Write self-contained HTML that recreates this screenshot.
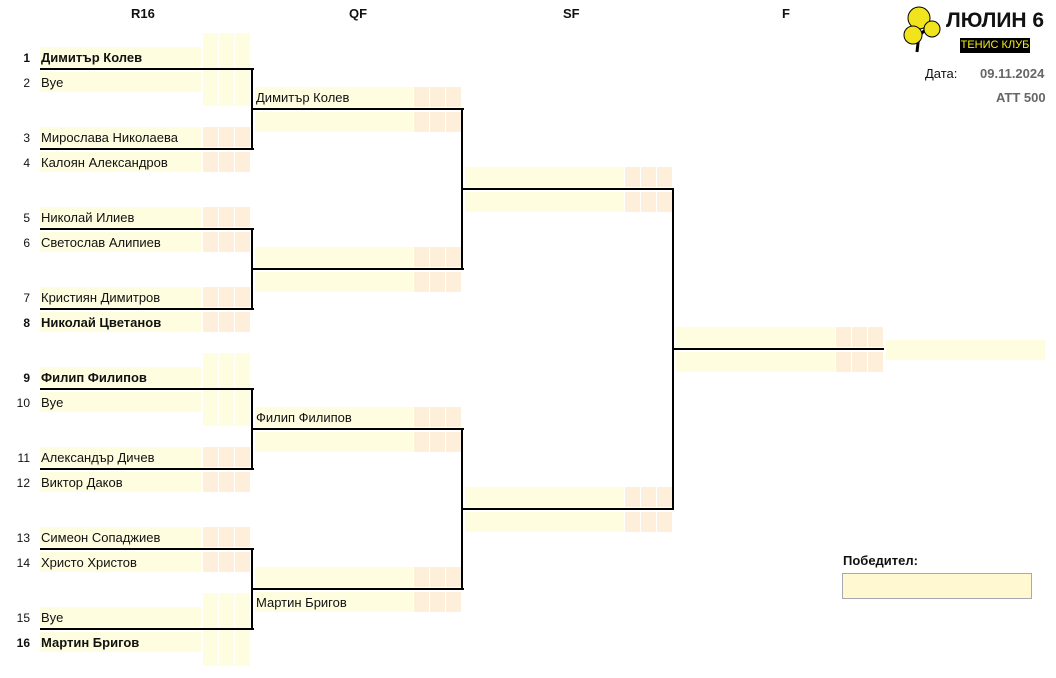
<!DOCTYPE html>
<html><head><meta charset="utf-8">
<style>
*{margin:0;padding:0;box-sizing:border-box}
body{width:1056px;height:678px;background:#fff;position:relative;overflow:hidden;font-family:"Liberation Sans","DejaVu Sans",sans-serif;font-size:13px;color:#111}
div{position:absolute}
.y{background:#fffde0}
.o{background:#fdefd9}
.n{height:20px}
.t{height:20px;line-height:20px;white-space:nowrap}
.b{font-weight:bold}
.num{width:30px;text-align:right;height:20px;line-height:20px;font-size:12px}
.h{background:#000;height:2px}
.v{background:#000;width:2px}
.hd{font-weight:bold;top:6px;font-size:13px}
</style></head><body>
<div class="hd" style="left:131px">R16</div>
<div class="hd" style="left:349px">QF</div>
<div class="hd" style="left:563px">SF</div>
<div class="hd" style="left:782px">F</div>

<div class="n y" style="left:40px;top:47px;width:161px"></div>
<div class="n y" style="left:40px;top:72px;width:161px"></div>
<div class="n y" style="left:40px;top:127px;width:161px"></div>
<div class="n y" style="left:40px;top:152px;width:161px"></div>
<div class="n y" style="left:40px;top:207px;width:161px"></div>
<div class="n y" style="left:40px;top:232px;width:161px"></div>
<div class="n y" style="left:40px;top:287px;width:161px"></div>
<div class="n y" style="left:40px;top:312px;width:161px"></div>
<div class="n y" style="left:40px;top:367px;width:161px"></div>
<div class="n y" style="left:40px;top:392px;width:161px"></div>
<div class="n y" style="left:40px;top:447px;width:161px"></div>
<div class="n y" style="left:40px;top:472px;width:161px"></div>
<div class="n y" style="left:40px;top:527px;width:161px"></div>
<div class="n y" style="left:40px;top:552px;width:161px"></div>
<div class="n y" style="left:40px;top:607px;width:161px"></div>
<div class="n y" style="left:40px;top:632px;width:161px"></div>

<div class="y" style="left:203px;top:33px;width:15px;height:73px"></div>
<div class="y" style="left:219px;top:33px;width:15px;height:73px"></div>
<div class="y" style="left:235px;top:33px;width:15px;height:73px"></div>
<div class="y" style="left:203px;top:353px;width:15px;height:73px"></div>
<div class="y" style="left:219px;top:353px;width:15px;height:73px"></div>
<div class="y" style="left:235px;top:353px;width:15px;height:73px"></div>
<div class="y" style="left:203px;top:593px;width:15px;height:73px"></div>
<div class="y" style="left:219px;top:593px;width:15px;height:73px"></div>
<div class="y" style="left:235px;top:593px;width:15px;height:73px"></div>

<div class="n o" style="left:203px;top:127px;width:15px"></div><div class="n o" style="left:219px;top:127px;width:15px"></div><div class="n o" style="left:235px;top:127px;width:15px"></div>
<div class="n o" style="left:203px;top:152px;width:15px"></div><div class="n o" style="left:219px;top:152px;width:15px"></div><div class="n o" style="left:235px;top:152px;width:15px"></div>
<div class="n o" style="left:203px;top:207px;width:15px"></div><div class="n o" style="left:219px;top:207px;width:15px"></div><div class="n o" style="left:235px;top:207px;width:15px"></div>
<div class="n o" style="left:203px;top:232px;width:15px"></div><div class="n o" style="left:219px;top:232px;width:15px"></div><div class="n o" style="left:235px;top:232px;width:15px"></div>
<div class="n o" style="left:203px;top:287px;width:15px"></div><div class="n o" style="left:219px;top:287px;width:15px"></div><div class="n o" style="left:235px;top:287px;width:15px"></div>
<div class="n o" style="left:203px;top:312px;width:15px"></div><div class="n o" style="left:219px;top:312px;width:15px"></div><div class="n o" style="left:235px;top:312px;width:15px"></div>
<div class="n o" style="left:203px;top:447px;width:15px"></div><div class="n o" style="left:219px;top:447px;width:15px"></div><div class="n o" style="left:235px;top:447px;width:15px"></div>
<div class="n o" style="left:203px;top:472px;width:15px"></div><div class="n o" style="left:219px;top:472px;width:15px"></div><div class="n o" style="left:235px;top:472px;width:15px"></div>
<div class="n o" style="left:203px;top:527px;width:15px"></div><div class="n o" style="left:219px;top:527px;width:15px"></div><div class="n o" style="left:235px;top:527px;width:15px"></div>
<div class="n o" style="left:203px;top:552px;width:15px"></div><div class="n o" style="left:219px;top:552px;width:15px"></div><div class="n o" style="left:235px;top:552px;width:15px"></div>

<div class="n y" style="left:255px;top:87px;width:158px"></div><div class="n y" style="left:255px;top:112px;width:158px"></div>
<div class="n y" style="left:255px;top:247px;width:158px"></div><div class="n y" style="left:255px;top:272px;width:158px"></div>
<div class="n y" style="left:255px;top:407px;width:158px"></div><div class="n y" style="left:255px;top:432px;width:158px"></div>
<div class="n y" style="left:255px;top:567px;width:158px"></div><div class="n y" style="left:255px;top:592px;width:158px"></div>
<div class="n o" style="left:414px;top:87px;width:15px"></div><div class="n o" style="left:430px;top:87px;width:15px"></div><div class="n o" style="left:446px;top:87px;width:15px"></div>
<div class="n o" style="left:414px;top:112px;width:15px"></div><div class="n o" style="left:430px;top:112px;width:15px"></div><div class="n o" style="left:446px;top:112px;width:15px"></div>
<div class="n o" style="left:414px;top:247px;width:15px"></div><div class="n o" style="left:430px;top:247px;width:15px"></div><div class="n o" style="left:446px;top:247px;width:15px"></div>
<div class="n o" style="left:414px;top:272px;width:15px"></div><div class="n o" style="left:430px;top:272px;width:15px"></div><div class="n o" style="left:446px;top:272px;width:15px"></div>
<div class="n o" style="left:414px;top:407px;width:15px"></div><div class="n o" style="left:430px;top:407px;width:15px"></div><div class="n o" style="left:446px;top:407px;width:15px"></div>
<div class="n o" style="left:414px;top:432px;width:15px"></div><div class="n o" style="left:430px;top:432px;width:15px"></div><div class="n o" style="left:446px;top:432px;width:15px"></div>
<div class="n o" style="left:414px;top:567px;width:15px"></div><div class="n o" style="left:430px;top:567px;width:15px"></div><div class="n o" style="left:446px;top:567px;width:15px"></div>
<div class="n o" style="left:414px;top:592px;width:15px"></div><div class="n o" style="left:430px;top:592px;width:15px"></div><div class="n o" style="left:446px;top:592px;width:15px"></div>

<div class="n y" style="left:465px;top:167px;width:159px"></div><div class="n y" style="left:465px;top:192px;width:159px"></div>
<div class="n y" style="left:465px;top:487px;width:159px"></div><div class="n y" style="left:465px;top:512px;width:159px"></div>
<div class="n o" style="left:625px;top:167px;width:15px"></div><div class="n o" style="left:641px;top:167px;width:15px"></div><div class="n o" style="left:657px;top:167px;width:15px"></div>
<div class="n o" style="left:625px;top:192px;width:15px"></div><div class="n o" style="left:641px;top:192px;width:15px"></div><div class="n o" style="left:657px;top:192px;width:15px"></div>
<div class="n o" style="left:625px;top:487px;width:15px"></div><div class="n o" style="left:641px;top:487px;width:15px"></div><div class="n o" style="left:657px;top:487px;width:15px"></div>
<div class="n o" style="left:625px;top:512px;width:15px"></div><div class="n o" style="left:641px;top:512px;width:15px"></div><div class="n o" style="left:657px;top:512px;width:15px"></div>

<div class="n y" style="left:676px;top:327px;width:159px"></div><div class="n y" style="left:676px;top:352px;width:159px"></div>
<div class="n o" style="left:836px;top:327px;width:15px"></div><div class="n o" style="left:852px;top:327px;width:15px"></div><div class="n o" style="left:868px;top:327px;width:15px"></div>
<div class="n o" style="left:836px;top:352px;width:15px"></div><div class="n o" style="left:852px;top:352px;width:15px"></div><div class="n o" style="left:868px;top:352px;width:15px"></div>
<div class="n y" style="left:886px;top:340px;width:159px"></div>

<div class="h" style="left:40px;top:68px;width:214px"></div>
<div class="h" style="left:40px;top:148px;width:214px"></div>
<div class="h" style="left:40px;top:228px;width:214px"></div>
<div class="h" style="left:40px;top:308px;width:214px"></div>
<div class="h" style="left:40px;top:388px;width:214px"></div>
<div class="h" style="left:40px;top:468px;width:214px"></div>
<div class="h" style="left:40px;top:548px;width:214px"></div>
<div class="h" style="left:40px;top:628px;width:214px"></div>
<div class="v" style="left:251px;top:68px;height:82px"></div>
<div class="v" style="left:251px;top:228px;height:82px"></div>
<div class="v" style="left:251px;top:388px;height:82px"></div>
<div class="v" style="left:251px;top:548px;height:82px"></div>
<div class="h" style="left:251px;top:108px;width:213px"></div>
<div class="h" style="left:251px;top:268px;width:213px"></div>
<div class="h" style="left:251px;top:428px;width:213px"></div>
<div class="h" style="left:251px;top:588px;width:213px"></div>
<div class="v" style="left:461px;top:108px;height:162px"></div>
<div class="v" style="left:461px;top:428px;height:162px"></div>
<div class="h" style="left:461px;top:188px;width:213px"></div>
<div class="h" style="left:461px;top:508px;width:213px"></div>
<div class="v" style="left:672px;top:188px;height:322px"></div>
<div class="h" style="left:672px;top:348px;width:212px"></div>

<div class="num b" style="left:0;top:48px">1</div>
<div class="num" style="left:0;top:73px">2</div>
<div class="num" style="left:0;top:128px">3</div>
<div class="num" style="left:0;top:153px">4</div>
<div class="num" style="left:0;top:208px">5</div>
<div class="num" style="left:0;top:233px">6</div>
<div class="num" style="left:0;top:288px">7</div>
<div class="num b" style="left:0;top:313px">8</div>
<div class="num b" style="left:0;top:368px">9</div>
<div class="num" style="left:0;top:393px">10</div>
<div class="num" style="left:0;top:448px">11</div>
<div class="num" style="left:0;top:473px">12</div>
<div class="num" style="left:0;top:528px">13</div>
<div class="num" style="left:0;top:553px">14</div>
<div class="num" style="left:0;top:608px">15</div>
<div class="num b" style="left:0;top:633px">16</div>

<div class="t b" style="left:41px;top:48px">Димитър Колев</div>
<div class="t" style="left:41px;top:73px">Bye</div>
<div class="t" style="left:41px;top:128px">Мирослава Николаева</div>
<div class="t" style="left:41px;top:153px">Калоян Александров</div>
<div class="t" style="left:41px;top:208px">Николай Илиев</div>
<div class="t" style="left:41px;top:233px">Светослав Алипиев</div>
<div class="t" style="left:41px;top:288px">Кристиян Димитров</div>
<div class="t b" style="left:41px;top:313px">Николай Цветанов</div>
<div class="t b" style="left:41px;top:368px">Филип Филипов</div>
<div class="t" style="left:41px;top:393px">Bye</div>
<div class="t" style="left:41px;top:448px">Александър Дичев</div>
<div class="t" style="left:41px;top:473px">Виктор Даков</div>
<div class="t" style="left:41px;top:528px">Симеон Сопаджиев</div>
<div class="t" style="left:41px;top:553px">Христо Христов</div>
<div class="t" style="left:41px;top:608px">Bye</div>
<div class="t b" style="left:41px;top:633px">Мартин Бригов</div>
<div class="t" style="left:256px;top:88px">Димитър Колев</div>
<div class="t" style="left:256px;top:408px">Филип Филипов</div>
<div class="t" style="left:256px;top:593px">Мартин Бригов</div>

<svg style="position:absolute;left:895px;top:0" width="60" height="60">
<path d="M22 52 L24 34 L20 28 M24 36 L30 30 M23 40 L16 38" stroke="#000" stroke-width="3" fill="none"/>
<circle cx="24" cy="18" r="11" fill="#f2e41c" stroke="#000" stroke-width="1"/>
<circle cx="37" cy="29" r="8" fill="#f2e41c" stroke="#000" stroke-width="1"/>
<circle cx="18" cy="35" r="9" fill="#f2e41c" stroke="#000" stroke-width="1"/>
</svg>
<div style="left:946px;top:9px;font-weight:bold;font-size:21px;white-space:nowrap">ЛЮЛИН 6</div>
<div style="left:960px;top:38px;width:70px;height:15px;background:#000;color:#f5ee1e;font-size:11px;line-height:15px;text-align:center;white-space:nowrap">ТЕНИС КЛУБ</div>
<div style="left:925px;top:66px;font-size:13px">Дата:</div>
<div style="left:980px;top:66px;font-size:13px;font-weight:bold;color:#666">09.11.2024</div>
<div style="left:996px;top:90px;font-size:13px;font-weight:bold;color:#666">ATT 500</div>

<div style="left:843px;top:553px;font-weight:bold;font-size:13px">Победител:</div>
<div style="left:842px;top:573px;width:190px;height:26px;background:#fff8d0;border:1px solid #a8a8b0"></div>
</body></html>
